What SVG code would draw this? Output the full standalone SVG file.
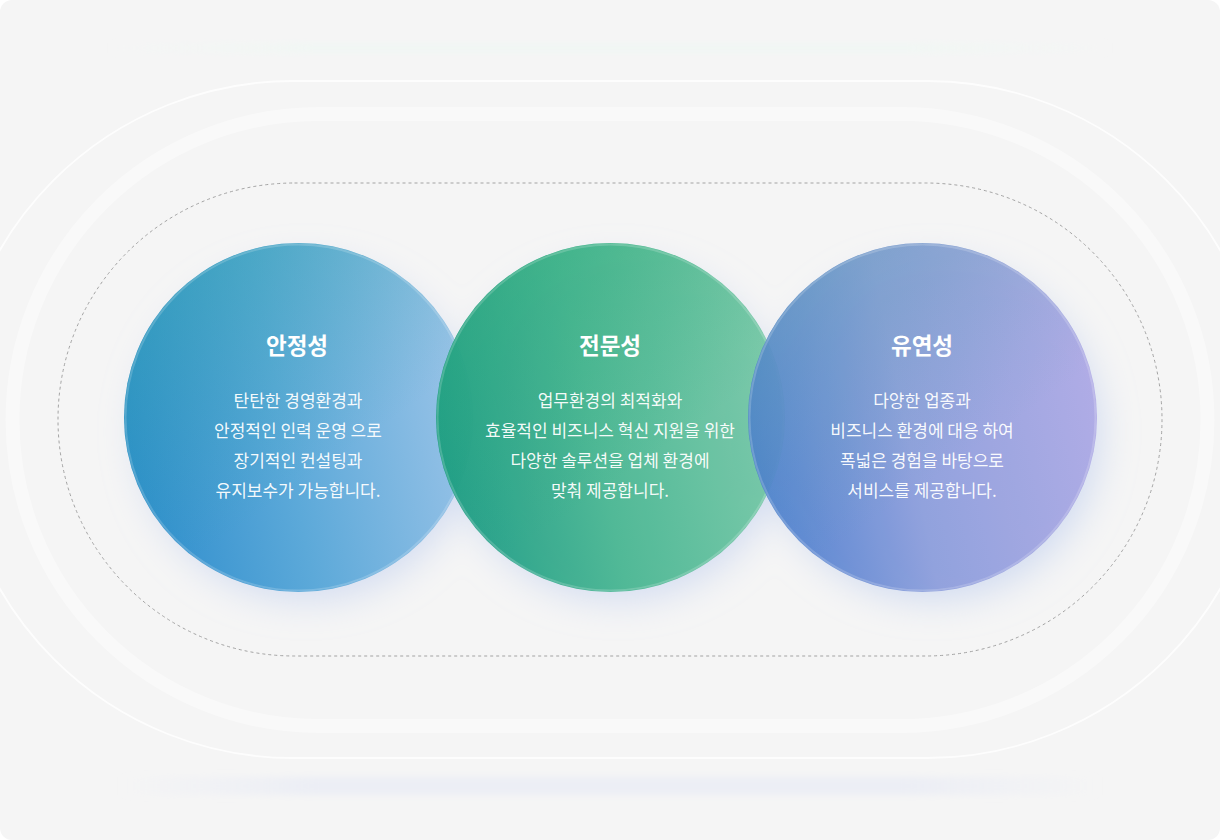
<svg xmlns="http://www.w3.org/2000/svg" width="1220" height="840" viewBox="0 0 1220 840">
  <defs>
    <style>
      .title { font-family: "Noto Sans CJK KR", "Noto Sans", sans-serif; font-size: 22.5px; font-weight: 700; fill: #ffffff; text-anchor: middle; }
      .body { font-family: "Noto Sans CJK KR", "Noto Sans", sans-serif; font-size: 17px; font-weight: 400; fill: #ffffff; fill-opacity: 0.95; text-anchor: middle; }
      .rim { fill: none; stroke: #ffffff; stroke-opacity: 0.18; stroke-width: 2; }
    </style>
    <filter id="glow" x="-40%" y="-40%" width="180%" height="180%">
      <feGaussianBlur stdDeviation="18"/>
    </filter>
    <filter id="soft" x="-10%" y="-50%" width="120%" height="200%">
      <feGaussianBlur stdDeviation="3"/>
    </filter>
    <linearGradient id="fadeTop" x1="0" y1="0" x2="1" y2="0">
      <stop offset="0" stop-color="#f1f7f4" stop-opacity="0"/>
      <stop offset="0.2" stop-color="#f1f7f4" stop-opacity="1"/>
      <stop offset="0.8" stop-color="#f1f7f4" stop-opacity="1"/>
      <stop offset="1" stop-color="#f1f7f4" stop-opacity="0"/>
    </linearGradient>
    <linearGradient id="fadeBot" x1="0" y1="0" x2="1" y2="0">
      <stop offset="0" stop-color="#eceef5" stop-opacity="0"/>
      <stop offset="0.2" stop-color="#eceef5" stop-opacity="1"/>
      <stop offset="0.8" stop-color="#eceef5" stop-opacity="1"/>
      <stop offset="1" stop-color="#eceef5" stop-opacity="0"/>
    </linearGradient>
    <linearGradient id="gBlue" x1="0" y1="0.6" x2="1" y2="0.4">
      <stop offset="0" stop-color="#2f8ecd"/>
      <stop offset="0.45" stop-color="#5ca9d9"/>
      <stop offset="1" stop-color="#9cc4e8"/>
    </linearGradient>
    <linearGradient id="oBlue" x1="0" y1="0" x2="0.5" y2="0.7">
      <stop offset="0" stop-color="#2aa3a6" stop-opacity="0.5"/>
      <stop offset="1" stop-color="#2aa3a6" stop-opacity="0"/>
    </linearGradient>
    <linearGradient id="gGreen" x1="0" y1="0.6" x2="1" y2="0.4">
      <stop offset="0" stop-color="#1d9c86"/>
      <stop offset="0.45" stop-color="#4cb894"/>
      <stop offset="1" stop-color="#7ccaa9"/>
    </linearGradient>
    <linearGradient id="oGreen" x1="0" y1="0" x2="0.5" y2="0.7">
      <stop offset="0" stop-color="#22a874" stop-opacity="0.5"/>
      <stop offset="1" stop-color="#22a874" stop-opacity="0"/>
    </linearGradient>
    <linearGradient id="gPurple" x1="0" y1="0.6" x2="1" y2="0.4">
      <stop offset="0" stop-color="#4a7ecf"/>
      <stop offset="0.45" stop-color="#8e9fdc"/>
      <stop offset="1" stop-color="#aea9e6"/>
    </linearGradient>
    <linearGradient id="oPurple" x1="0" y1="0" x2="0.5" y2="0.7">
      <stop offset="0" stop-color="#5a9cb4" stop-opacity="0.55"/>
      <stop offset="1" stop-color="#5a9cb4" stop-opacity="0"/>
    </linearGradient>
  </defs>

  <!-- background -->
  <rect x="0" y="0" width="1220" height="840" fill="#ffffff"/>
  <rect x="0" y="0" width="1220" height="840" rx="12" fill="#f5f5f5"/>

  <g id="rings">
    <rect x="110" y="43" width="1000" height="10" fill="url(#fadeTop)" filter="url(#soft)"/>
    <rect x="120" y="777" width="980" height="18" fill="url(#fadeBot)" filter="url(#soft)"/>
    <rect x="-45.5" y="81" width="1311" height="677" rx="338.5" fill="none" stroke="#ffffff" stroke-width="1.8" stroke-opacity="0.8"/>
    <rect x="12.5" y="114" width="1195" height="612" rx="306" fill="none" stroke="#ffffff" stroke-opacity="0.4" stroke-width="14"/>
    <rect x="58" y="183" width="1104" height="473" rx="236.5" fill="none" stroke="#a3a3a3" stroke-width="1" stroke-dasharray="3 3"/>
  </g>

  <g id="shadows" filter="url(#glow)">
    <circle cx="306" cy="432" r="168" fill="#b7c9ee" fill-opacity="0.55"/>
    <circle cx="618" cy="432" r="168" fill="#b7c9ee" fill-opacity="0.55"/>
    <circle cx="932" cy="432" r="168" fill="#b7c9ee" fill-opacity="0.6"/>
  </g>

  <g id="node-stability">
    <circle cx="298.5" cy="417.5" r="174.5" fill="url(#gBlue)"/>
    <circle cx="298.5" cy="417.5" r="174.5" fill="url(#oBlue)"/>
    <circle cx="298.5" cy="417.5" r="173" class="rim"/>
    <text class="title" x="297" y="354">안정성</text>
    <text class="body" x="298" y="407">탄탄한 경영환경과</text>
    <text class="body" x="298" y="437">안정적인 인력 운영 으로</text>
    <text class="body" x="298" y="467">장기적인 컨설팅과</text>
    <text class="body" x="298" y="497">유지보수가 가능합니다.</text>
  </g>

  <g id="node-expertise">
    <g opacity="0.96">
      <circle cx="610.5" cy="417.5" r="174.5" fill="url(#gGreen)"/>
      <circle cx="610.5" cy="417.5" r="174.5" fill="url(#oGreen)"/>
    </g>
    <circle cx="610.5" cy="417.5" r="173" class="rim"/>
    <text class="title" x="610" y="354">전문성</text>
    <text class="body" x="610" y="407">업무환경의 최적화와</text>
    <text class="body" x="610" y="437">효율적인 비즈니스 혁신 지원을 위한</text>
    <text class="body" x="610" y="467">다양한 솔루션을 업체 환경에</text>
    <text class="body" x="610" y="497">맞춰 제공합니다.</text>
  </g>

  <g id="node-flexibility">
    <g opacity="0.94">
      <circle cx="922.5" cy="417.5" r="174.5" fill="url(#gPurple)"/>
      <circle cx="922.5" cy="417.5" r="174.5" fill="url(#oPurple)"/>
    </g>
    <circle cx="922.5" cy="417.5" r="173" class="rim"/>
    <text class="title" x="922" y="354">유연성</text>
    <text class="body" x="922" y="407">다양한 업종과</text>
    <text class="body" x="922" y="437">비즈니스 환경에 대응 하여</text>
    <text class="body" x="922" y="467">폭넓은 경험을 바탕으로</text>
    <text class="body" x="922" y="497">서비스를 제공합니다.</text>
  </g>
</svg>
